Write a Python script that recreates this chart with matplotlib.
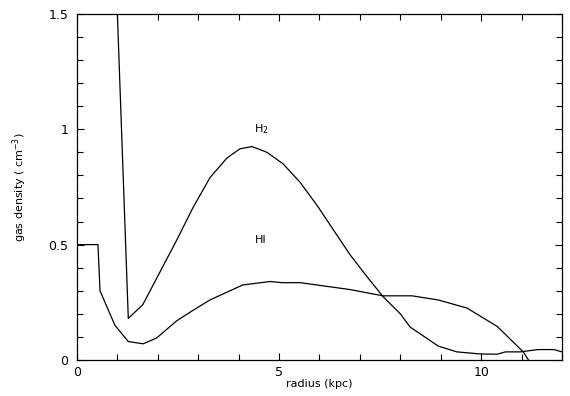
import matplotlib
matplotlib.use("Agg")
import matplotlib.pyplot as plt
from matplotlib.ticker import MultipleLocator, FixedLocator

# H2 curve
h2_r = [1.0, 1.27, 1.63, 2.05, 2.47, 2.87, 3.29, 3.71, 4.03, 4.33, 4.7, 5.1, 5.52, 5.94,
        6.34, 6.76, 7.18, 7.57, 8.0, 8.24, 8.94, 9.4, 9.98, 10.4, 10.6, 10.97, 11.4, 11.8, 12.0]
h2_n = [1.5, 0.18, 0.24, 0.38, 0.52, 0.66, 0.79, 0.875, 0.915, 0.925, 0.90, 0.85, 0.77, 0.67,
        0.565, 0.455, 0.36, 0.275, 0.20, 0.143, 0.06, 0.035, 0.026, 0.025, 0.035, 0.035, 0.045,
        0.045, 0.035]

# HI curve
hi_r = [0.0, 0.52, 0.57, 0.94, 1.27, 1.64, 1.97, 2.47, 2.87, 3.29, 4.1, 4.78, 5.07, 5.52,
        6.76, 7.57, 8.0, 8.29, 8.94, 9.65, 10.4, 11.04, 11.17]
hi_n = [0.5, 0.5, 0.30, 0.15, 0.08, 0.07, 0.095, 0.17, 0.215, 0.26, 0.325, 0.34, 0.335, 0.335,
        0.305, 0.278, 0.278, 0.278, 0.26, 0.225, 0.145, 0.035, 0.0]

fig = plt.figure(figsize=(5.7, 3.96), dpi=100)
ax = fig.add_axes([0.135, 0.091, 0.851, 0.874])
ax.plot(h2_r, h2_n, color="black", lw=0.9, clip_on=True)
ax.plot(hi_r, hi_n, color="black", lw=0.9, clip_on=True)

ax.text(4.55, 1.0, "H$_2$", fontsize=8, ha="center", va="center")
ax.text(4.55, 0.52, "HI", fontsize=8, ha="center", va="center")

ax.set_xlim(0, 12)
ax.set_ylim(0, 1.5)
ax.xaxis.set_major_locator(FixedLocator([0, 5, 10]))
ax.xaxis.set_minor_locator(MultipleLocator(1))
ax.yaxis.set_major_locator(FixedLocator([0, 0.5, 1, 1.5]))
ax.yaxis.set_minor_locator(MultipleLocator(0.1))
ax.set_yticklabels(["0", "0.5", "1", "1.5"])
ax.tick_params(which="both", direction="in", top=True, right=True, labelsize=9, width=0.8)
ax.tick_params(which="major", length=5)
ax.tick_params(axis="x", which="major", pad=4)
ax.tick_params(axis="y", which="major", pad=6)
ax.tick_params(which="minor", length=4)
for s in ax.spines.values():
    s.set_linewidth(0.9)

ax.set_xlabel("radius (kpc)", fontsize=8, labelpad=0)
ax.set_ylabel("gas density ( cm$^{-3}$)", fontsize=8, labelpad=14)

fig.savefig("out.png", dpi=100)
